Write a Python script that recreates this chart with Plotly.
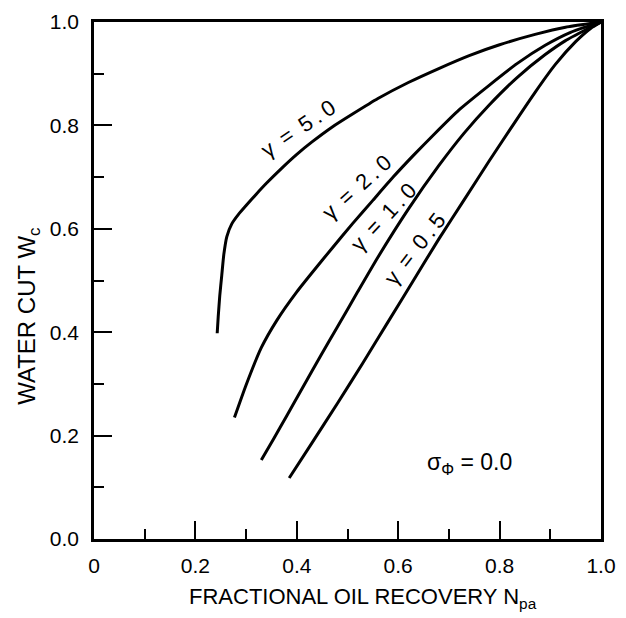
import plotly.graph_objects as go

# gamma = 5.0
x_g50 = [0.243, 0.245, 0.248, 0.252, 0.256, 0.262, 0.272, 0.285, 0.30, 0.32, 0.34, 0.37,
         0.40, 0.43, 0.47, 0.51, 0.56, 0.62, 0.68, 0.74, 0.80, 0.87, 0.93, 1.0]
y_g50 = [0.398, 0.43, 0.47, 0.51, 0.55, 0.585, 0.61, 0.628, 0.645, 0.667, 0.688, 0.717,
         0.744, 0.768, 0.797, 0.822, 0.852, 0.883, 0.91, 0.935, 0.956, 0.976, 0.99, 1.0]
# gamma = 2.0
x_g20 = [0.277, 0.30, 0.33, 0.36, 0.40, 0.43, 0.47, 0.51, 0.55, 0.59, 0.63, 0.67, 0.72,
         0.78, 0.835, 0.89, 0.94, 1.0]
y_g20 = [0.235, 0.298, 0.37, 0.422, 0.478, 0.515, 0.563, 0.61, 0.655, 0.70, 0.742, 0.782,
         0.83, 0.878, 0.92, 0.955, 0.98, 1.0]
# gamma = 1.0
x_g10 = [0.330, 0.355, 0.38, 0.41, 0.43, 0.465, 0.48, 0.52, 0.56, 0.62, 0.68, 0.73, 0.78,
         0.835, 0.89, 0.93, 0.97, 1.0]
y_g10 = [0.153, 0.195, 0.238, 0.29, 0.325, 0.385, 0.41, 0.478, 0.545, 0.638, 0.722, 0.785,
         0.84, 0.893, 0.937, 0.964, 0.985, 1.0]
# gamma = 0.5
x_g05 = [0.385, 0.43, 0.48, 0.53, 0.58, 0.63, 0.68, 0.73, 0.78, 0.83, 0.87, 0.91, 0.95,
         0.98, 1.0]
y_g05 = [0.118, 0.186, 0.262, 0.34, 0.42, 0.50, 0.58, 0.656, 0.732, 0.806, 0.864, 0.918,
         0.962, 0.988, 1.0]

x_tickvals = [0, 0.2, 0.4, 0.6, 0.8, 1.0]
x_ticktext = ["0", "0.2", "0.4", "0.6", "0.8", "1.0"]
y_tickvals = [0, 0.2, 0.4, 0.6, 0.8, 1.0]
y_ticktext = ["0.0", "0.2", "0.4", "0.6", "0.8", "1.0"]

FONT = "Liberation Sans, Arial, sans-serif"
TS = "\u2009"  # thin space, to mimic the wide lettering of the original

fig = go.Figure()
for xs, ys, name in [(x_g50, y_g50, "γ = 5.0"), (x_g20, y_g20, "γ = 2.0"),
                     (x_g10, y_g10, "γ = 1.0"), (x_g05, y_g05, "γ = 0.5")]:
    fig.add_trace(go.Scatter(x=xs, y=ys, mode="lines", name=name,
                             line=dict(color="black", width=3, shape="spline", smoothing=0.5),
                             showlegend=False))

def gamma_label(v):
    return "γ" + TS + " =" + TS + " " + TS.join(v)

labels = [
    ("5.0", 0.403, 0.794, -34),
    ("2.0", 0.518, 0.679, -42),
    ("1.0", 0.571, 0.621, -47),
    ("0.5", 0.634, 0.561, -52),
]
for v, x, y, ang in labels:
    fig.add_annotation(x=x, y=y, xref="x", yref="y", text=gamma_label(v), showarrow=False,
                       textangle=ang, font=dict(family=FONT, size=22, color="black"))

fig.add_annotation(x=0.74, y=0.146, xref="x", yref="y", text="σ<sub>Φ</sub> = 0.0",
                   showarrow=False, font=dict(family=FONT, size=23, color="black"))

fig.add_annotation(x=0.53, y=-0.114, xref="paper", yref="paper",
                   text="FRACTIONAL OIL RECOVERY N<sub>pa</sub>", showarrow=False,
                   xanchor="center", yanchor="middle",
                   font=dict(family=FONT, size=22, color="black"))
fig.add_annotation(x=-0.128, y=0.43, xref="paper", yref="paper",
                   text="WATER CUT W<sub>c</sub>", showarrow=False, textangle=-90,
                   xanchor="center", yanchor="middle",
                   font=dict(family=FONT, size=24, color="black"))

axis_common = dict(range=[0, 1], showgrid=False, zeroline=False, showline=True,
                   linecolor="black", linewidth=2.5, mirror=True,
                   ticks="inside", ticklen=18, tickwidth=1.5, tickcolor="black",
                   tickfont=dict(family=FONT, size=21, color="black"),
                   ticklabeloverflow="allow",
                   minor=dict(dtick=0.1, ticks="inside", ticklen=10, tickwidth=1.5,
                              tickcolor="black", showgrid=False))

fig.update_xaxes(tickvals=x_tickvals, ticktext=x_ticktext, ticklabelstandoff=6, **axis_common)
fig.update_yaxes(tickvals=y_tickvals, ticktext=y_ticktext, ticklabelstandoff=8, **axis_common)

fig.update_layout(width=626, height=618, margin=dict(l=94, r=10, t=12, b=79),
                  paper_bgcolor="white", plot_bgcolor="white",
                  font=dict(family=FONT, color="black"))

fig.write_html("out.html")
